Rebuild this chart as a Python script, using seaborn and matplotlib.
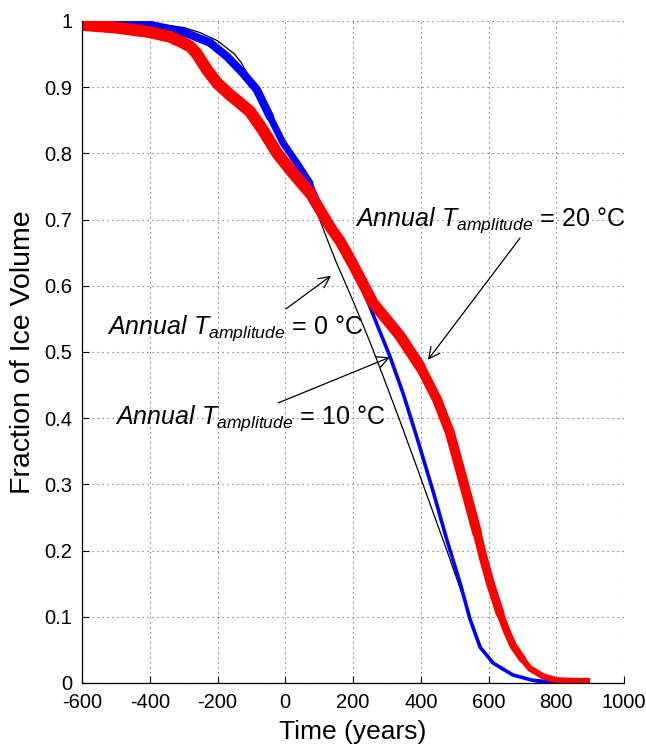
import numpy as np
import pandas as pd
import matplotlib
matplotlib.use("Agg")
import matplotlib.pyplot as plt
import seaborn as sns

# Fraction of ice volume remaining vs. time, for three annual temperature amplitudes
t_0c = [-600, -500, -400, -300, -250, -200, -170, -150, -130, -113, -95, -74, -55,
        -36, -10, 14, 40, 64, 82, 100, 117, 150, 200, 250, 289, 339, 389, 436, 477,
        516, 555, 584, 610, 640, 672, 700, 731, 760]
v_0c = [1.000, 0.999, 0.997, 0.990, 0.982, 0.970, 0.958, 0.950, 0.937, 0.921, 0.904,
        0.885, 0.866, 0.846, 0.826, 0.805, 0.785, 0.758, 0.728, 0.702, 0.679, 0.636,
        0.577, 0.515, 0.463, 0.395, 0.325, 0.258, 0.200, 0.143, 0.085, 0.047, 0.030,
        0.020, 0.012, 0.007, 0.003, 0.000]

t_10c = [-600, -500, -400, -300, -222, -172, -125, -84, -45, -7, 35, 73, 103, 141, 200,
         250, 309, 348, 389, 436, 477, 516, 545, 575, 614, 672, 731, 790, 800]
v_10c = [1.000, 0.998, 0.994, 0.983, 0.967, 0.946, 0.921, 0.896, 0.855, 0.816, 0.785,
         0.755, 0.719, 0.680, 0.628, 0.568, 0.493, 0.437, 0.370, 0.290, 0.216, 0.151,
         0.097, 0.054, 0.030, 0.012, 0.004, 0.001, 0.000]

t_20c = [-600, -500, -400, -340, -302, -280, -261, -231, -201, -163, -134, -104, -66,
         -24, 23, 73, 132, 162, 200, 259, 339, 398, 448, 486, 516, 536, 566, 584, 605,
         634, 654, 673, 700, 722, 761, 802, 850, 900]
v_20c = [0.994, 0.990, 0.983, 0.976, 0.967, 0.961, 0.950, 0.926, 0.906, 0.888, 0.876,
         0.863, 0.835, 0.800, 0.770, 0.740, 0.689, 0.667, 0.632, 0.574, 0.524, 0.478,
         0.428, 0.378, 0.322, 0.284, 0.227, 0.190, 0.151, 0.105, 0.078, 0.056, 0.036,
         0.022, 0.010, 0.004, 0.003, 0.003]

x_ticks = [-600, -400, -200, 0, 200, 400, 600, 800, 1000]
y_ticks = [0, 0.1, 0.2, 0.3, 0.4, 0.5, 0.6, 0.7, 0.8, 0.9, 1.0]
y_ticklabels = ["0", "0.1", "0.2", "0.3", "0.4", "0.5", "0.6", "0.7", "0.8", "0.9", "1"]

labels = {
    "20": r"$\mathit{Annual\ T_{amplitude}}$ = 20 °C",
    "0": r"$\mathit{Annual\ T_{amplitude}}$ = 0 °C",
    "10": r"$\mathit{Annual\ T_{amplitude}}$ = 10 °C",
}

sns.set_style("white")
plt.rcParams["font.family"] = ["Liberation Sans", "DejaVu Sans"]
plt.rcParams["mathtext.fontset"] = "custom"
plt.rcParams["mathtext.rm"] = "Liberation Sans"
plt.rcParams["mathtext.it"] = "Liberation Sans:italic"
plt.rcParams["text.color"] = "black"
plt.rcParams["axes.labelcolor"] = "black"

fig = plt.figure(figsize=(6.46, 7.46), dpi=100)
ax = fig.add_axes([0.127, 0.0845, 0.839, 0.8875])

df0 = pd.DataFrame({"t": t_0c, "v": v_0c})
df10 = pd.DataFrame({"t": t_10c, "v": v_10c})
df20 = pd.DataFrame({"t": t_20c, "v": v_20c})


def band(df, color, layers):
    """Draw a run as stacked strokes whose width narrows as time goes on."""
    for i, (t_end, width) in enumerate(layers):
        part = df[df.t <= t_end]
        sns.lineplot(data=part, x="t", y="v", ax=ax, color=color, linewidth=width,
                     estimator=None, sort=False,
                     solid_capstyle="butt" if i == 0 else "round",
                     solid_joinstyle="round")


# thin black reference run
sns.lineplot(data=df0, x="t", y="v", ax=ax, color="black", linewidth=0.9,
             estimator=None, sort=False)

# blue run: wide seasonal band early, narrow later
band(df10, "#0000ff", [(900, 2.6), (141, 3.8), (73, 5.0), (-45, 6.0)])

# red run: wide band tapering towards the end
band(df20, "#ff0000", [(900, 4.5), (700, 5.5), (634, 6.4), (566, 7.2),
                        (398, 8.0), (73, 8.6)])

ax.set_xlim(-600, 1000)
ax.set_ylim(0, 1)
ax.set_xticks(x_ticks)
ax.set_xticklabels([str(v) for v in x_ticks])
ax.set_yticks(y_ticks)
ax.set_yticklabels(y_ticklabels)
ax.tick_params(direction="in", length=5, width=0.8, labelsize=14.5, colors="black",
               top=False, right=False, bottom=True, left=True)
ax.tick_params(axis="x", pad=7)
ax.tick_params(axis="y", pad=7)
ax.grid(True, linestyle=(0, (1, 3.5)), color="0.35", linewidth=0.8)
for side in ["top", "right"]:
    ax.spines[side].set_visible(False)
for side in ["left", "bottom"]:
    ax.spines[side].set_color("black")
    ax.spines[side].set_linewidth(0.9)

ax.set_xlabel("Time (years)", fontsize=19, labelpad=6)
ax.set_ylabel("Fraction of Ice Volume", fontsize=20.5, labelpad=6)

arrow = dict(arrowstyle="->", color="black", lw=0.9, mutation_scale=20,
             shrinkA=0, shrinkB=0)
ax.text(206, 0.690, labels["20"], fontsize=18, va="baseline", ha="left")
ax.annotate("", xy=(421, 0.488), xytext=(693, 0.672), arrowprops=arrow)
ax.text(-526, 0.527, labels["0"], fontsize=18, va="baseline", ha="left")
ax.annotate("", xy=(135, 0.615), xytext=(2, 0.565), arrowprops=arrow)
ax.text(-503, 0.391, labels["10"], fontsize=18, va="baseline", ha="left")
ax.annotate("", xy=(309, 0.492), xytext=(-21, 0.423), arrowprops=arrow)

ax.set_axisbelow(True)
fig.savefig("out.png", dpi=100)
